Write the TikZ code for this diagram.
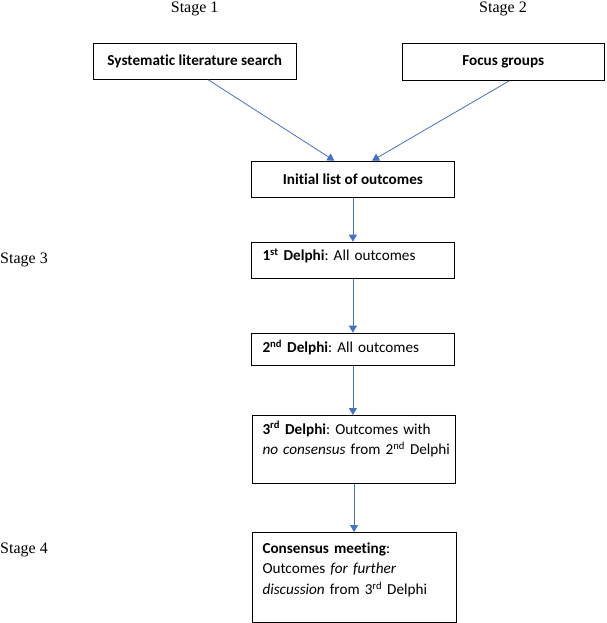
\documentclass[tikz,border=0pt]{standalone}
\usepackage{fontspec}
\setmainfont{Liberation Serif}
\newfontfamily\calfont[Ligatures=NoCommon]{Carlito}
\usetikzlibrary{arrows.meta,calc}
\definecolor{arrowblue}{HTML}{4472C4}
\frenchspacing
\begin{document}
\begin{tikzpicture}[x=1pt,y=-1pt,
  box/.style={draw, line width=0.8pt, inner sep=0pt, anchor=north west},
  boxtext/.style={font=\calfont\frenchspacing\fontsize{15.2}{20.8}\selectfont, inner sep=0pt},
  ltext/.style={boxtext, anchor=base west, text width=190pt, align=left},
  stagelabel/.style={font=\fontsize{16}{19}\selectfont, inner sep=0pt, anchor=base west},
  arr/.style={color=arrowblue, line width=0.8pt, -{Triangle[length=7pt,width=8pt]}}
]
\useasboundingbox (0,0) rectangle (606,623);

\node[stagelabel] (s1) at (170.7,12.3) {Stage 1};
\node[stagelabel] (s2) at (479,12.3) {Stage 2};
\node[stagelabel] (s3) at (0,263) {Stage 3};
\node[stagelabel] (s4) at (0,553) {Stage 4};

\node[box, boxtext, minimum width=203.3pt, minimum height=36pt] (sys) at (92.7,43) {\bfseries Systematic literature search\hspace{5pt}};
\node[box, boxtext, minimum width=202.3pt, minimum height=37pt] (focus) at (401.7,43) {\bfseries Focus groups};
\node[box, boxtext, minimum width=203pt, minimum height=36pt] (init) at (251,160.7) {\bfseries Initial list of outcomes};

\node[box, minimum width=203pt, minimum height=36pt] (d1) at (251,241.7) {};
\node[ltext] (t1) at (262.3,260.7) {\textbf{1\textsuperscript{st} Delphi}: All outcomes};

\node[box, minimum width=203pt, minimum height=32.3pt] (d2) at (251,332.7) {};
\node[ltext] (t2) at (262.3,352.7) {\textbf{2\textsuperscript{nd} Delphi}: All outcomes};

\node[box, minimum width=202.7pt, minimum height=68.3pt] (d3) at (252.3,415) {};
\node[ltext] (t3) at (262.3,434) {\textbf{3\textsuperscript{rd} Delphi}: Outcomes with\\ \textit{no consensus} from 2\textsuperscript{nd} Delphi};

\node[box, minimum width=204pt, minimum height=89.7pt] (cm) at (251.7,532) {};
\node[ltext] (t4) at (262.3,553) {\textbf{Consensus meeting}:\\ Outcomes \textit{for further}\\ \textit{discussion} from 3\textsuperscript{rd} Delphi};

\draw[arr] ($(sys.south west)!0.566!(sys.south east)$) -- ($(init.north west)!0.409!(init.north east)$);
\draw[arr] ($(focus.south west)!0.53!(focus.south east)$) -- ($(init.north west)!0.594!(init.north east)$);
\draw[arr] (init.south) -- (d1.north);
\draw[arr] (d1.south) -- (d2.north);
\draw[arr] (d2.south) -- (d2.south |- d3.north);
\draw[arr] (d3.south) -- (d3.south |- cm.north);
\end{tikzpicture}
\end{document}
